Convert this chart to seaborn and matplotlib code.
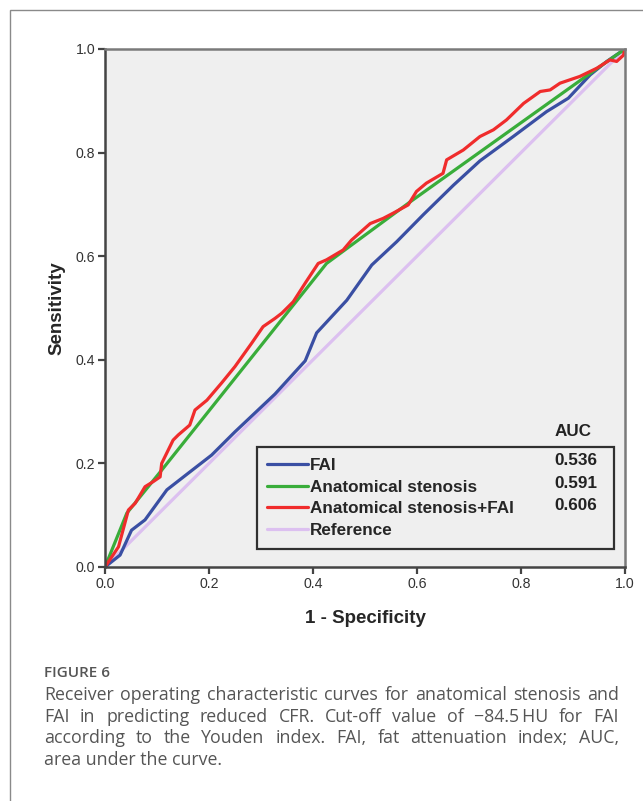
import matplotlib
matplotlib.use('Agg')
import matplotlib.pyplot as plt
import seaborn as sns
from matplotlib.lines import Line2D
from matplotlib.patches import Rectangle

# ROC curve points (1 - specificity, sensitivity)
fai_x = [0.0, 0.029, 0.051, 0.077, 0.119, 0.16, 0.205, 0.25, 0.288, 0.327, 0.385, 0.407,
         0.465, 0.513, 0.561, 0.612, 0.67, 0.721, 0.785, 0.849, 0.891, 0.933, 0.965, 1.0]
fai_y = [0.0, 0.023, 0.071, 0.091, 0.149, 0.181, 0.216, 0.261, 0.297, 0.334, 0.398, 0.452,
         0.515, 0.583, 0.628, 0.680, 0.737, 0.784, 0.831, 0.879, 0.905, 0.95, 0.976, 1.0]

sten_x = [0.0, 0.042, 0.109, 0.426, 0.587, 0.933, 1.0]
sten_y = [0.0, 0.104, 0.187, 0.586, 0.705, 0.953, 1.0]

comb_x = [0.0, 0.026, 0.045, 0.058, 0.077, 0.093, 0.106, 0.109, 0.131, 0.141, 0.163, 0.173,
          0.196, 0.224, 0.25, 0.282, 0.304, 0.327, 0.34, 0.362, 0.385, 0.41, 0.426, 0.458,
          0.474, 0.51, 0.535, 0.554, 0.583, 0.599, 0.618, 0.65, 0.657, 0.689, 0.721, 0.747,
          0.772, 0.805, 0.837, 0.856, 0.875, 0.913, 0.946, 0.971, 0.984, 0.997, 1.0]
comb_y = [0.0, 0.039, 0.11, 0.123, 0.155, 0.165, 0.174, 0.2, 0.245, 0.255, 0.274, 0.303,
          0.322, 0.355, 0.387, 0.432, 0.464, 0.48, 0.49, 0.512, 0.548, 0.586, 0.593, 0.612,
          0.631, 0.663, 0.673, 0.683, 0.699, 0.725, 0.741, 0.76, 0.786, 0.805, 0.831, 0.844,
          0.863, 0.895, 0.918, 0.921, 0.934, 0.947, 0.963, 0.979, 0.976, 0.988, 1.0]

ref_x = [0.0, 1.0]
ref_y = [0.0, 1.0]

labels = ['FAI', 'Anatomical stenosis', 'Anatomical stenosis+FAI', 'Reference']
auc_vals = ['0.536', '0.591', '0.606', '']
colors = ['#3a4fa3', '#39ad3a', '#f02c2c', '#dcc0f0']

sns.set_style('white')
plt.rcParams['font.family'] = ['Liberation Sans', 'DejaVu Sans']

fig = plt.figure(figsize=(6.43, 8.01), dpi=100)
W, H = 643, 801

# outer page frame
fig.patches.append(Rectangle((10 / W, -0.1), 1.2, 1 - 10 / H + 0.1, transform=fig.transFigure,
                             fill=False, edgecolor='#8a8a8a', linewidth=1.0))

ax = fig.add_axes([105 / W, 1 - 567 / H, 520 / W, 518 / H])
ax.set_facecolor('#efefef')

series = [(ref_x, ref_y), (fai_x, fai_y), (sten_x, sten_y), (comb_x, comb_y)]
order = [3, 0, 1, 2]
for (xs, ys), idx in zip(series, order):
    sns.lineplot(x=xs, y=ys, ax=ax, color=colors[idx], linewidth=2.3, sort=False,
                 estimator=None, legend=False)

ax.set_xlim(0, 1)
ax.set_ylim(0, 1)
ax.set_xticks([0, 0.2, 0.4, 0.6, 0.8, 1.0])
ax.set_yticks([0, 0.2, 0.4, 0.6, 0.8, 1.0])
ax.set_xticklabels(['0.0', '0.2', '0.4', '0.6', '0.8', '1.0'])
ax.set_yticklabels(['0.0', '0.2', '0.4', '0.6', '0.8', '1.0'])
ax.tick_params(direction='out', length=5, width=1.6, color='#444444',
               labelsize=10.2, labelcolor='#333333', pad=2, left=True, bottom=True)
for side in ['left', 'bottom']:
    ax.spines[side].set_color('#444444')
    ax.spines[side].set_linewidth(1.8)
for side in ['top', 'right']:
    ax.spines[side].set_color('#7a7a7a')
    ax.spines[side].set_linewidth(1.8)

ax.set_xlabel('1 - Specificity', fontsize=13.5, fontweight='bold', labelpad=14)
ax.set_ylabel('Sensitivity', fontsize=13.5, fontweight='bold', labelpad=7)

leg_fs = 12.3
handles = [Line2D([0], [0], color=c, linewidth=2.3) for c in colors]
leg = ax.legend(handles, labels, loc='lower left',
                bbox_to_anchor=(0.292, 0.035, 0.687, 0.204), mode='expand',
                frameon=True, fancybox=False, prop={'weight': 'bold', 'size': leg_fs},
                handlelength=2.4, handletextpad=0.08, labelspacing=0.4,
                borderpad=0.62, borderaxespad=0)
leg.get_frame().set_edgecolor('black')
leg.get_frame().set_linewidth(1.6)
leg.get_frame().set_facecolor('#efefef')

entry_y = [461, 484, 506, 529]
for val, py in zip(auc_vals, entry_y):
    if val:
        fig.text(597 / W, 1 - py / H, val, ha='right', va='center',
                 fontsize=leg_fs, fontweight='bold', color='#222222')
fig.text(573 / W, 1 - 431 / H, 'AUC', ha='center', va='center',
         fontsize=leg_fs, fontweight='bold', color='#222222')

# caption
cap_font = ['Open Sans', 'DejaVu Sans']
fig.text(44 / W, 1 - 677 / H, 'FIGURE 6', ha='left', va='baseline',
         fontsize=11, fontweight='semibold', color='#555555', family=cap_font)

cap_lines = ['Receiver operating characteristic curves for anatomical stenosis and',
             'FAI in predicting reduced CFR. Cut-off value of \u221284.5\u2009HU for FAI',
             'according to the Youden index. FAI, fat attenuation index; AUC,',
             'area under the curve.']
cap_base = [700, 722, 743, 765]
left_px, right_px = 44, 619
cap_fs = 12.8
renderer = fig.canvas.get_renderer()
for i, (line, py) in enumerate(zip(cap_lines, cap_base)):
    yf = 1 - py / H
    if i == len(cap_lines) - 1:
        fig.text(left_px / W, yf, line, ha='left', va='baseline', fontsize=cap_fs,
                 color='#555555', family=cap_font)
        continue
    words = line.split(' ')
    objs = [fig.text(0, yf, w, ha='left', va='baseline', fontsize=cap_fs,
                     color='#555555', family=cap_font) for w in words]
    widths = [o.get_window_extent(renderer).width for o in objs]
    gap = (right_px - left_px - sum(widths)) / (len(words) - 1)
    xp = left_px
    for o, w in zip(objs, widths):
        o.set_x(xp / W)
        xp += w + gap

fig.savefig('out.png', dpi=100)
